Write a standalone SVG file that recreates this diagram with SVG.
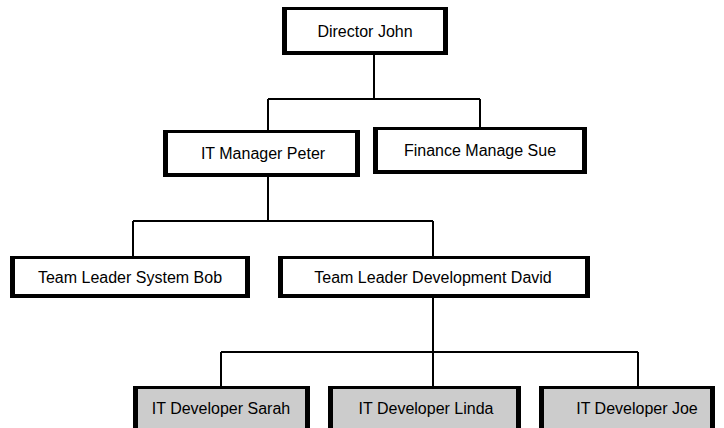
<svg xmlns="http://www.w3.org/2000/svg" width="724" height="428" viewBox="0 0 724 428">
<style>
.edge{fill:#000000}
.face{fill:#ffffff}
.dev{fill:#cccccc}
.lbl{font-family:"Liberation Sans",Arial,sans-serif;font-size:16px;fill:#000000;text-anchor:middle}
.conn{fill:none;stroke:#000000;stroke-width:2}
</style>
<rect width="724" height="428" fill="#ffffff"/>
<g id="connectors">
<path class="conn" d="M374 54 V99 M268 99 H480 M268 99 V131 M480 99 V128"/>
<path class="conn" d="M268 176 V221 M133 221 H433 M133 221 V257 M433 221 V257"/>
<path class="conn" d="M433 297 V387 M221 352 H638 M221 352 V387 M638 352 V387"/>
</g>
<g id="director-john"><rect class="edge" x="282" y="7" width="166" height="48"/><rect class="face" x="287" y="10" width="156" height="41"/><text class="lbl" x="365" y="37">Director John</text></g>
<g id="it-manager-peter"><rect class="edge" x="163" y="130" width="197" height="47"/><rect class="face" x="168" y="133" width="187" height="40"/><text class="lbl" x="263" y="159">IT Manager Peter</text></g>
<g id="finance-manage-sue"><rect class="edge" x="373" y="127" width="214" height="47"/><rect class="face" x="378" y="130" width="204" height="40"/><text class="lbl" x="480" y="156">Finance Manage Sue</text></g>
<g id="team-leader-bob"><rect class="edge" x="10" y="256" width="240" height="42"/><rect class="face" x="15" y="259" width="230" height="35"/><text class="lbl" x="130" y="283">Team Leader System Bob</text></g>
<g id="team-leader-david"><rect class="edge" x="278" y="256" width="312" height="42"/><rect class="face" x="283" y="259" width="302" height="35"/><text class="lbl" x="433" y="283">Team Leader Development David</text></g>
<g id="it-developer-sarah"><rect class="edge" x="133" y="386" width="177" height="48"/><rect class="dev" x="138" y="389" width="167" height="45"/><text class="lbl" x="221" y="414">IT Developer Sarah</text></g>
<g id="it-developer-linda"><rect class="edge" x="328" y="386" width="193" height="48"/><rect class="dev" x="333" y="389" width="183" height="45"/><text class="lbl" x="426" y="414">IT Developer Linda</text></g>
<g id="it-developer-joe"><rect class="edge" x="539" y="386" width="176" height="48"/><rect class="dev" x="544" y="389" width="166" height="45"/><text class="lbl" x="637" y="414">IT Developer Joe</text></g>
</svg>
